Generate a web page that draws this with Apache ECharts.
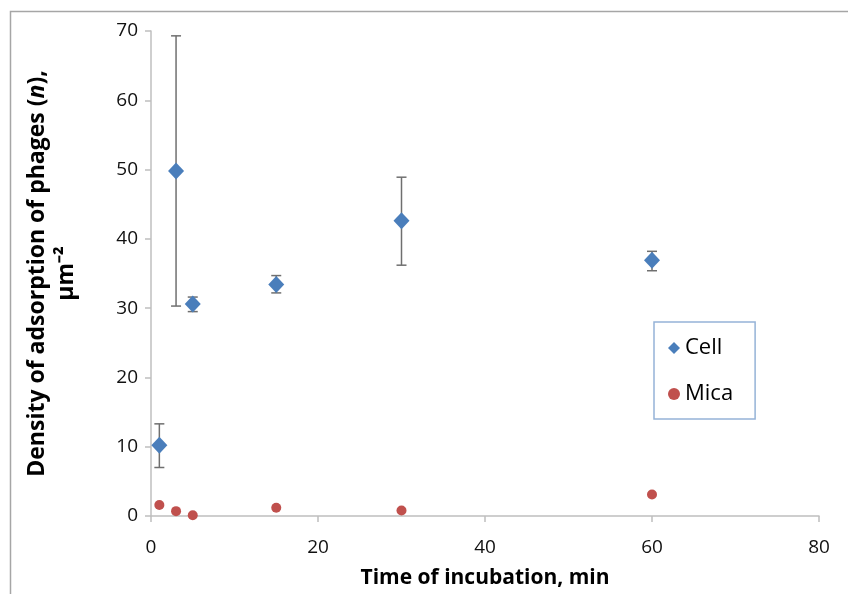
<!DOCTYPE html>
<html>
<head>
<meta charset="utf-8">
<script src="https://cdn.jsdelivr.net/npm/echarts@6/dist/echarts.min.js"></script>
<style>
html,body{margin:0;padding:0;background:#fff;}
#c{width:848px;height:594px;}
</style>
</head>
<body>
<div id="c"></div>
<script>
var times = [1, 3, 5, 15, 30, 60];
var cellValues = [10.2, 49.8, 30.6, 33.4, 42.6, 36.9];
var cellLow = [7.0, 30.3, 29.5, 32.2, 36.2, 35.4];
var cellHigh = [13.3, 69.3, 31.6, 34.7, 48.9, 38.2];
var micaValues = [1.6, 0.7, 0.1, 1.2, 0.8, 3.1];
var xTicks = [0, 20, 40, 60, 80];
var yTicks = [0, 10, 20, 30, 40, 50, 60, 70];

var font = '"Open Sans", "Liberation Sans", sans-serif';
var chart = echarts.init(document.getElementById('c'));

var cellData = times.map(function (t, i) { return [t, cellValues[i]]; });
var micaData = times.map(function (t, i) { return [t, micaValues[i]]; });
var errData = times.map(function (t, i) { return [t, cellLow[i], cellHigh[i]]; });

chart.setOption({
  animation: false,
  backgroundColor: '#fff',
  graphic: [{
    type: 'polyline',
    shape: { points: [[10.5, 600], [10.5, 11.5], [860, 11.5]] },
    style: { stroke: '#a6a6a6', lineWidth: 1.5, fill: null },
    silent: true
  }],
  grid: { left: 151, right: 29, top: 31, bottom: 77 },
  xAxis: {
    type: 'value', min: xTicks[0], max: xTicks[xTicks.length - 1], interval: 20,
    name: 'Time of incubation, min', nameLocation: 'middle', nameGap: 52,
    nameTextStyle: { fontFamily: font, fontSize: 21, fontWeight: 'bold', color: '#000' },
    axisLine: { lineStyle: { color: '#bfbfbf', width: 1.5 } },
    axisTick: { show: true, length: 6, lineStyle: { color: '#bfbfbf', width: 1.5 } },
    axisLabel: { fontFamily: font, fontSize: 19, color: '#111', margin: 22 },
    splitLine: { show: false }
  },
  yAxis: {
    type: 'value', min: yTicks[0], max: yTicks[yTicks.length - 1], interval: 10,
    name: 'Density of adsorption of phages ({i|n}),\nμm⁻²',
    nameLocation: 'middle', nameGap: 70, nameRotate: 90,
    nameTextStyle: {
      fontFamily: font, fontSize: 23, fontWeight: 'bold', color: '#000', lineHeight: 29,
      rich: { i: { fontFamily: font, fontSize: 23, fontWeight: 'bold', fontStyle: 'italic', color: '#000' } }
    },
    axisLine: { show: true, lineStyle: { color: '#bfbfbf', width: 1.5 } },
    axisTick: { show: true, length: 6, lineStyle: { color: '#bfbfbf', width: 1.5 } },
    axisLabel: { fontFamily: font, fontSize: 19, color: '#111', margin: 13 },
    splitLine: { show: false }
  },
  legend: {
    data: [{ name: 'Cell', icon: 'diamond' }, { name: 'Mica', icon: 'circle' }],
    orient: 'vertical', left: 654, top: 322,
    padding: [15, 22, 14, 14], itemGap: 24,
    itemWidth: 12, itemHeight: 12,
    borderColor: '#95b3d7', borderWidth: 1.5,
    textStyle: { fontFamily: font, fontSize: 22, color: '#000' }
  },
  series: [
    {
      type: 'custom', name: 'err', silent: true, z: 1,
      data: errData,
      renderItem: function (params, api) {
        var x = api.value(0);
        var lo = api.coord([x, api.value(1)]);
        var hi = api.coord([x, api.value(2)]);
        var cap = 5;
        var st = { stroke: '#6f6f6f', lineWidth: 1.5 };
        return {
          type: 'group',
          children: [
            { type: 'line', shape: { x1: lo[0], y1: lo[1], x2: hi[0], y2: hi[1] }, style: st },
            { type: 'line', shape: { x1: lo[0] - cap, y1: lo[1], x2: lo[0] + cap, y2: lo[1] }, style: st },
            { type: 'line', shape: { x1: hi[0] - cap, y1: hi[1], x2: hi[0] + cap, y2: hi[1] }, style: st }
          ]
        };
      }
    },
    {
      type: 'scatter', name: 'Cell', data: cellData, symbol: 'diamond', symbolSize: [16, 17], z: 3,
      itemStyle: { color: '#4a7ebb', opacity: 1 }
    },
    {
      type: 'scatter', name: 'Mica', data: micaData, symbol: 'circle', symbolSize: 10, z: 3,
      itemStyle: { color: '#c0504d', opacity: 1 }
    }
  ]
});
</script>
</body>
</html>
